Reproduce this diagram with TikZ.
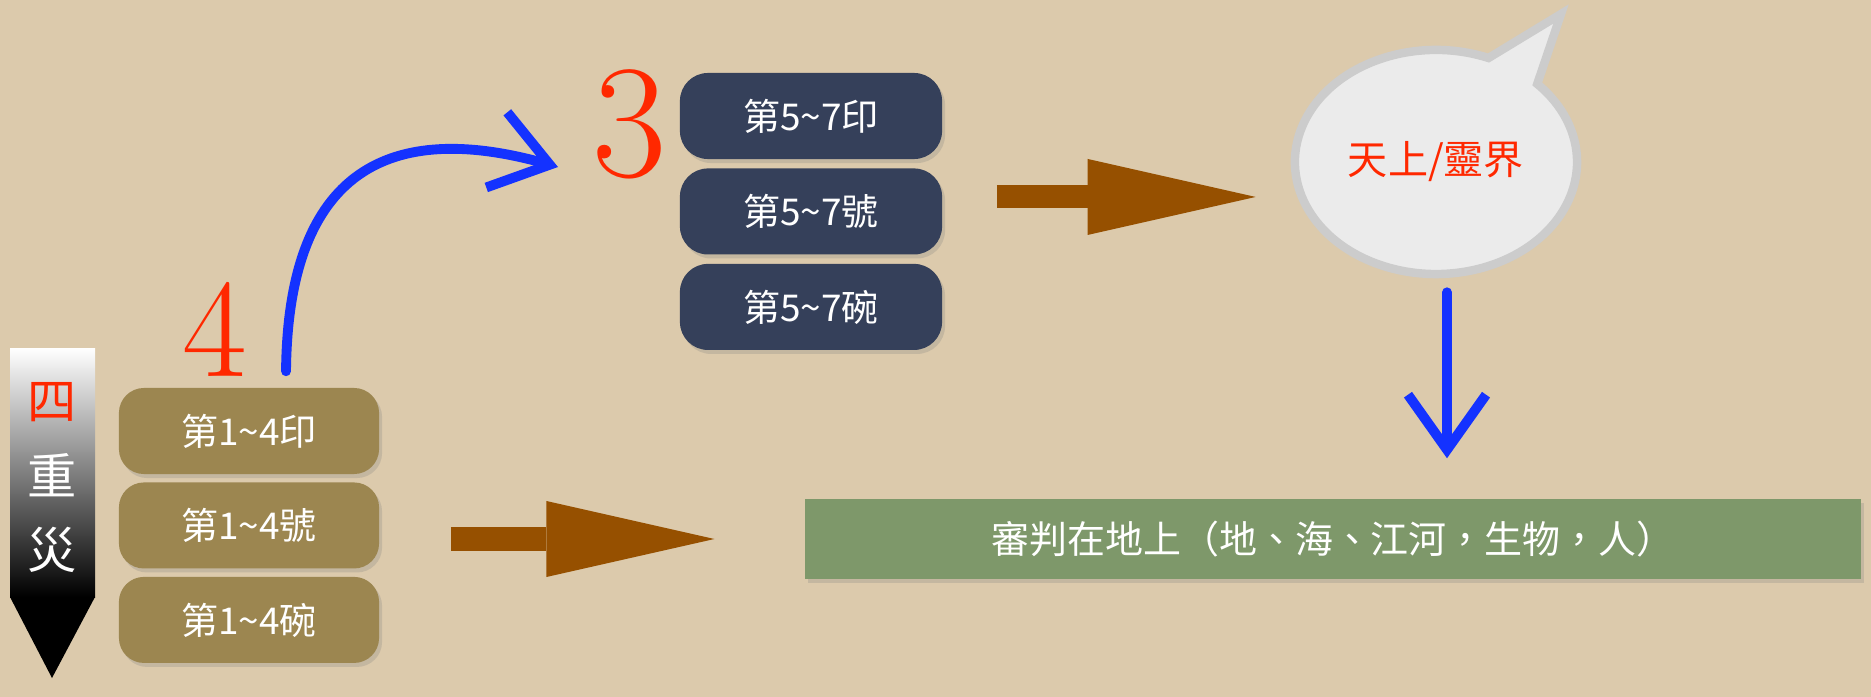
\documentclass[tikz,border=0pt]{standalone}
\usepackage{fontspec}
\newfontfamily\cjk{Noto Sans CJK TC}
\usetikzlibrary{positioning,arrows.meta,shadows,shapes.callouts}
\definecolor{paper}{RGB}{220,202,172}
\definecolor{sealbrown}{RGB}{156,134,80}
\definecolor{sealnavy}{RGB}{53,64,90}
\definecolor{judgegreen}{RGB}{126,152,106}
\definecolor{flowbrown}{RGB}{150,80,0}
\definecolor{penblue}{RGB}{20,50,255}
\definecolor{inkred}{RGB}{255,40,0}

\begin{document}
\begin{tikzpicture}[x=0.01cm,y=-0.01cm]
\tikzstyle{seal}=[rounded corners=0.25cm,minimum width=2.6cm,minimum height=0.86cm,text=white,
  font=\cjk\fontsize{10.5}{12}\selectfont,drop shadow={opacity=0.25,shadow xshift=0.03cm,shadow yshift=-0.04cm}]
\tikzstyle{pen}=[draw=penblue,line width=2.8pt,line cap=round,line join=round,
  -{Straight Barb[length=0.55cm,width=0.78cm]}]
\tikzstyle{flow}=[draw=flowbrown,line width=0.23cm,-{Triangle[length=1.68cm,width=0.76cm,line width=0pt]}]
\tikzstyle{digit}=[text=inkred,inner sep=0pt]
\tikzstyle{banner}=[inner sep=0pt,font=\cjk\fontsize{14}{16}\selectfont]
\useasboundingbox[fill=paper] (0,0) rectangle (1871,697);

% four plagues banner
\shade[top color=white,bottom color=black] (10,348) rectangle (95,597);
\fill[black] (10,597) -- (95,597) -- (52,678) -- cycle;
\node[banner,text=inkred] (w1) at (52,402) {四};
\node[banner,text=white] (w2) at (52,475) {重};
\node[banner,text=white] (w3) at (52,550) {災};

% seals 1-4
\node[seal,fill=sealbrown] (b1) at (249,431) {第1\textasciitilde4印};
\node[seal,fill=sealbrown,below=0.07cm of b1] (b2) {第1\textasciitilde4號};
\node[seal,fill=sealbrown,below=0.07cm of b2] (b3) {第1\textasciitilde4碗};

% seals 5-7
\node[seal,fill=sealnavy,minimum width=2.62cm,rounded corners=0.28cm] (d1) at (811,116) {第5\textasciitilde7印};
\node[seal,fill=sealnavy,minimum width=2.62cm,rounded corners=0.28cm,below=0.08cm of d1] (d2) {第5\textasciitilde7號};
\node[seal,fill=sealnavy,minimum width=2.62cm,rounded corners=0.28cm,below=0.08cm of d2] (d3) {第5\textasciitilde7碗};

\node[digit,font=\fontsize{40}{42}\selectfont] (four) at (215,329) {4};
\node[digit,font=\fontsize{46}{48}\selectfont] (three) at (630,124) {3};

% heaven bubble
\node[ellipse callout,callout absolute pointer={(1561,14)},callout pointer arc=24,
  fill=black!8,draw=black!20,line width=2.4pt,minimum width=2.58cm,minimum height=2.24cm,
  text=inkred,font=\cjk\fontsize{11.4}{13}\selectfont] (bubble) at (1436,162) {天上/靈界};

% judgement on earth
\node[fill=judgegreen,minimum width=10.55cm,minimum height=0.8cm,text=white,
  font=\cjk\fontsize{10.8}{12}\selectfont,drop shadow={opacity=0.25,shadow xshift=0.03cm,shadow yshift=-0.04cm}]
  (judge) at (1333,539) {審判在地上（地、海、江河，生物，人）};

\coordinate (pentip) at (558,167);
\draw[pen] ([xshift=0.37cm,yshift=0.16cm]b1.north) .. controls +(2,-202) and +(-168,-47) .. (pentip);
\draw[pen,shorten <=0.14cm,shorten >=0.4cm] ([xshift=0.11cm]bubble.south) -- ([xshift=0.11cm]bubble.south |- judge.north);

\draw[flow,shorten <=0.54cm,shorten >=0.35cm] ([yshift=0.145cm]d2.east) -- ([yshift=0.145cm]d2.east -| bubble.west);
\draw[flow,shorten <=0.71cm,shorten >=0.9cm] (b2.east |- judge.west) -- (judge.west);
\end{tikzpicture}
\end{document}
